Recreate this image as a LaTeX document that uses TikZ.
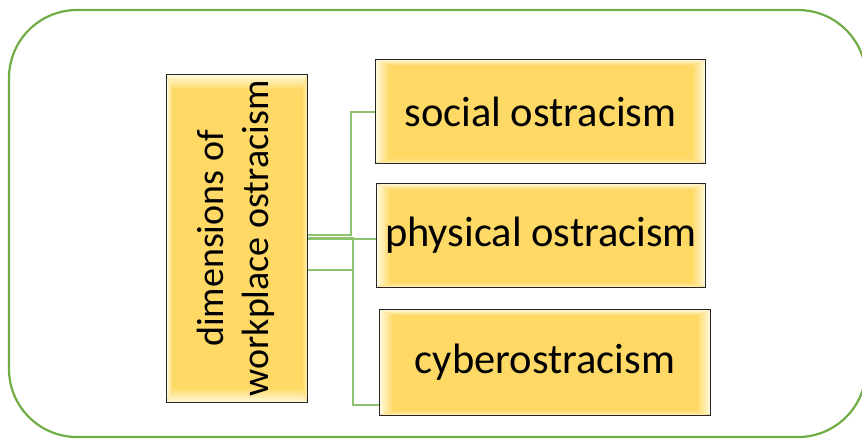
\documentclass[tikz,border=0pt]{standalone}
\usepackage{fontspec}
\setmainfont{Carlito}
\usepackage{graphicx}
\usetikzlibrary{calc}
\definecolor{gold}{HTML}{FFD966}
\definecolor{goldlight}{HTML}{FFFAE0}
\definecolor{framegreen}{HTML}{70AD47}
\definecolor{conngreen}{HTML}{8DC26F}
\newcommand{\hbev}[1]{%
  \shade[left color=goldlight, right color=gold] (#1.north west) -- ++(14,6) -- ($(#1.south west)+(14,-6)$) -- (#1.south west) -- cycle;
  \shade[left color=gold, right color=goldlight] (#1.north east) -- ++(-14,6) -- ($(#1.south east)+(-14,-6)$) -- (#1.south east) -- cycle;
  \shade[top color=goldlight, bottom color=gold] (#1.north west) -- (#1.north east) -- ++(-14,6) -- ($(#1.north west)+(14,6)$) -- cycle;
  \shade[top color=gold, bottom color=goldlight!70!gold] (#1.south west) -- (#1.south east) -- ++(-14,-6) -- ($(#1.south west)+(14,-6)$) -- cycle;
  \draw[boxline] (#1.north west) rectangle (#1.south east);}
\newcommand{\vbev}[1]{%
  \shade[top color=goldlight, bottom color=gold] (#1.north west) -- (#1.north east) -- ++(-6,15) -- ($(#1.north west)+(6,15)$) -- cycle;
  \shade[top color=gold, bottom color=goldlight] (#1.south west) -- (#1.south east) -- ++(-6,-15) -- ($(#1.south west)+(6,-15)$) -- cycle;
  \shade[left color=goldlight, right color=gold] (#1.north west) -- ++(6,15) -- ($(#1.south west)+(6,-15)$) -- (#1.south west) -- cycle;
  \shade[left color=gold, right color=goldlight!70!gold] (#1.north east) -- ++(-6,15) -- ($(#1.south east)+(-6,-15)$) -- (#1.south east) -- cycle;
  \draw[boxline] (#1.north west) rectangle (#1.south east);}
\begin{document}
\begin{tikzpicture}[x=1pt,y=-1pt,
  boxline/.style={draw=black!85, line width=1.3pt},
  box/.style={boxline, fill=gold, inner sep=0pt},
  conn/.style={draw=conngreen, line width=2pt},
  label/.style={font=\fontsize{42.5}{45}\selectfont, inner sep=0pt}]
\useasboundingbox (0,0) rectangle (862,440);
\begin{scope}
\clip (0,0) rectangle (862,440);
\draw[framegreen, line width=2.2pt, rounded corners=68pt] (9,10) rectangle (866,437);
\end{scope}
% junction points
\coordinate (j1) at (351,235);
\coordinate (j2) at (353,238);
\coordinate (j3) at (353,270);
\node[box, minimum width=140pt, minimum height=327pt] (root) at (237,238.5) {};
\node[box, minimum width=329pt, minimum height=103pt] (social) at (540.5,111.5) {};
\node[box, minimum width=328pt, minimum height=103pt] (physical) at (541,235.5) {};
\node[box, minimum width=330pt, minimum height=105pt] (cyber) at (545,362.5) {};
\coordinate (pw) at ($(physical.west)+(0,3)$);
\coordinate (cw) at ($(cyber.south west)+(0,-11)$);
\draw[conn] (j1 -| root.east) -- (j1) |- (social.west);
\draw[conn] (pw -| root.east) -- (pw);
\draw[conn] (j3 -| root.east) -- (j3);
\draw[conn] (j2 -| root.east) -- (j2) |- (cw);
\vbev{root}
\hbev{social}
\hbev{physical}
\hbev{cyber}
\node[font=\fontsize{38}{45}\selectfont, inner sep=0pt] (roottext) at (root.center) {\rotatebox{90}{\begin{tabular}{@{}c@{}}dimensions of\\workplace ostracism\end{tabular}}};
\node[label] (socialtext) at (social.center) {social ostracism};
\node[label] (physicaltext) at (physical.center) {physical ostracism};
\node[label] (cybertext) at (cyber.center) {cyberostracism};
\end{tikzpicture}
\end{document}
